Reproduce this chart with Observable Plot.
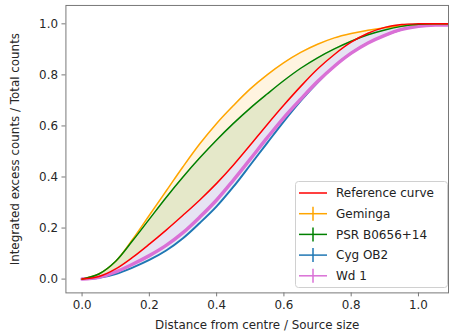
<!DOCTYPE html>
<html>
<head>
<meta charset="utf-8">
<script src="https://cdn.jsdelivr.net/npm/d3@7"></script>
<script src="https://cdn.jsdelivr.net/npm/@observablehq/plot@0.6"></script>
<style>
  html, body { margin: 0; padding: 0; overflow: hidden; background: #fff; }
  #wrap { position: relative; width: 450px; height: 336px; overflow: hidden; }
  #legend { position: absolute; left: 295px; top: 181px; }
</style>
</head>
<body>
<div id="wrap"><div id="chart"></div><div id="legend"></div></div>
<script>
// Distance from centre / Source size
const xs = [0, 0.05, 0.1, 0.15, 0.2, 0.25, 0.3, 0.35, 0.4, 0.45, 0.5, 0.55, 0.6, 0.65, 0.7, 0.75, 0.8, 0.85, 0.9, 0.95, 1.0, 1.05, 1.1];
// Integrated excess counts / Total counts
const reference = [0, 0.01, 0.04, 0.085, 0.137, 0.192, 0.25, 0.31, 0.375, 0.447, 0.525, 0.605, 0.682, 0.755, 0.823, 0.88, 0.928, 0.963, 0.986, 0.997, 1.0, 1.0, 1.0];
const geminga   = [0, 0.02, 0.07, 0.155, 0.25, 0.345, 0.44, 0.53, 0.61, 0.68, 0.745, 0.80, 0.848, 0.888, 0.92, 0.945, 0.962, 0.975, 0.985, 0.992, 0.998, 1.0, 1.0];
const psr       = [0, 0.02, 0.07, 0.15, 0.235, 0.32, 0.40, 0.475, 0.545, 0.61, 0.67, 0.725, 0.778, 0.826, 0.867, 0.902, 0.932, 0.957, 0.976, 0.99, 0.998, 1.0, 1.0];
const cygOB2    = [0, 0.005, 0.02, 0.045, 0.075, 0.112, 0.16, 0.22, 0.285, 0.362, 0.447, 0.533, 0.618, 0.698, 0.77, 0.834, 0.885, 0.925, 0.955, 0.978, 0.992, 0.998, 1.0];
const wd1       = [0, 0.007, 0.028, 0.058, 0.092, 0.132, 0.182, 0.243, 0.31, 0.388, 0.47, 0.553, 0.633, 0.705, 0.774, 0.834, 0.885, 0.925, 0.955, 0.978, 0.99, 0.995, 0.995];

const xTicks = [0, 0.2, 0.4, 0.6, 0.8, 1.0];
const yTicks = [0, 0.2, 0.4, 0.6, 0.8, 1.0];
const legendLabels = ["Reference curve", "Geminga", "PSR B0656+14", "Cyg OB2", "Wd 1"];
const legendColors = ["#ff0000", "#ffa500", "#008000", "#1f77b4", "#da70d6"];
const legendError  = [false, true, true, true, true];

const rows = xs.map((x, i) => ({x, ref: reference[i], gem: geminga[i], psr: psr[i], cyg: cygOB2[i], wd: wd1[i]}));
const curve = "catmull-rom";
const font = "DejaVu Sans, sans-serif";

const chart = Plot.plot({
  width: 454,
  height: 336,
  marginLeft: 66,
  marginRight: 2,
  marginTop: 5,
  marginBottom: 41,
  style: {fontFamily: font, fontSize: "12px", color: "#262626", background: "white"},
  x: {domain: [-0.048, 1.0893], ticks: xTicks, tickFormat: d3.format(".1f"), tickSize: 4, tickPadding: 4,
      label: "Distance from centre / Source size", labelAnchor: "center", labelOffset: 36, labelArrow: "none"},
  y: {domain: [-0.054, 1.072], ticks: yTicks, tickFormat: d3.format(".1f"), tickSize: 4, tickPadding: 4,
      label: "Integrated excess counts / Total counts", labelAnchor: "center", labelOffset: 56, labelArrow: "none"},
  marks: [
    Plot.areaY(rows, {x: "x", y1: "ref", y2: "gem", fill: "#ffa500", fillOpacity: 0.12, curve, clip: true}),
    Plot.areaY(rows, {x: "x", y1: "ref", y2: "psr", fill: "#008000", fillOpacity: 0.1, curve, clip: true}),
    Plot.areaY(rows, {x: "x", y1: "ref", y2: "cyg", fill: "#1f77b4", fillOpacity: 0.1, curve, clip: true}),
    Plot.areaY(rows, {x: "x", y1: "ref", y2: "wd", fill: "#da70d6", fillOpacity: 0.1, curve, clip: true}),
    Plot.line(rows, {x: "x", y: "cyg", stroke: "#1f77b4", strokeWidth: 2, curve, clip: true}),
    Plot.line(rows, {x: "x", y: "wd", stroke: "#da70d6", strokeWidth: 3.5, curve, clip: true}),
    Plot.line(rows, {x: "x", y: "gem", stroke: "#ffa500", strokeWidth: 1.5, curve, clip: true}),
    Plot.line(rows, {x: "x", y: "psr", stroke: "#008000", strokeWidth: 1.5, curve, clip: true}),
    Plot.line(rows, {x: "x", y: "ref", stroke: "#ff0000", strokeWidth: 1.5, curve, clip: true}),
    Plot.frame({stroke: "#777", strokeWidth: 1})
  ]
});
chart.querySelectorAll("[aria-label='x-axis tick'] path, [aria-label='y-axis tick'] path").forEach(p => p.setAttribute("stroke", "#777"));
document.getElementById("chart").appendChild(chart);

// Legend
const rowH = 20.7, lw = 153, lh = 107;
const svg = d3.select("#legend").append("svg").attr("width", lw).attr("height", lh)
  .style("font-family", font).style("font-size", "12px");
svg.append("rect").attr("x", 0.5).attr("y", 0.5).attr("width", lw - 1).attr("height", lh - 1)
  .attr("rx", 3).attr("fill", "white").attr("fill-opacity", 0.85).attr("stroke", "#d0d0d0");
legendLabels.forEach((lab, i) => {
  const cy = 12 + i * rowH;
  const g = svg.append("g");
  g.append("line").attr("x1", 4).attr("x2", 32).attr("y1", cy).attr("y2", cy)
    .attr("stroke", legendColors[i]).attr("stroke-width", 1.5);
  if (legendError[i]) {
    g.append("line").attr("x1", 18).attr("x2", 18).attr("y1", cy - 7).attr("y2", cy + 7)
      .attr("stroke", legendColors[i]).attr("stroke-width", 1.5);
  }
  g.append("text").attr("x", 41).attr("y", cy).attr("dy", "0.35em").attr("fill", "#222").text(lab);
});
</script>
</body>
</html>
